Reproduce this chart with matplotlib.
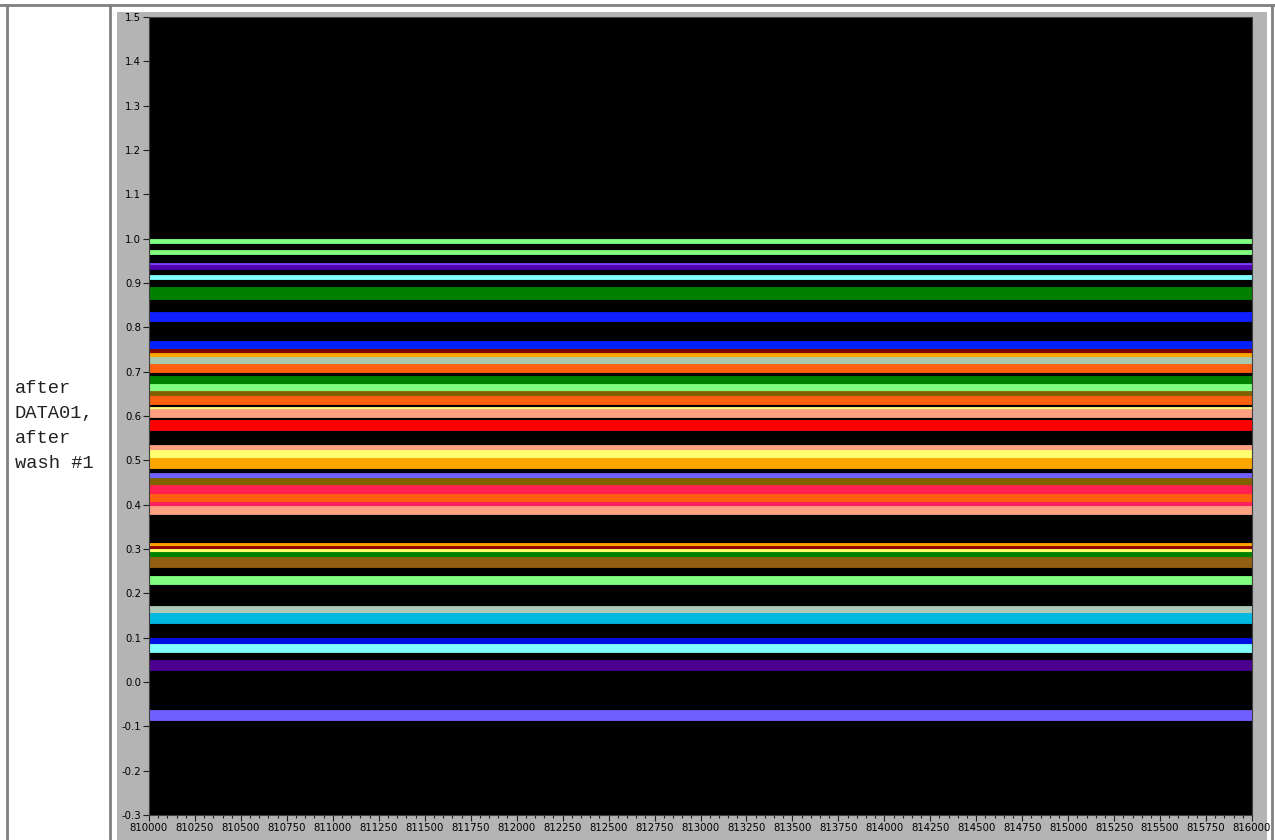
"""Recreate the 'after DATA01, after wash #1' trace overview panel."""

import matplotlib

matplotlib.use("Agg")
import matplotlib.pyplot as plt
from matplotlib.patches import Rectangle
from matplotlib.lines import Line2D
from matplotlib.ticker import MultipleLocator, FormatStrFormatter

W, H = 1275, 840

X_RANGE = [810000, 816000]
Y_RANGE = [-0.3, 1.5]

# one row per trace: mean level, half-width of the noise band, colour
LEVELS = [
    0.995, 0.970, 0.940, 0.936, 0.913, 0.877, 0.825,
    0.757, 0.761, 0.743, 0.732, 0.722, 0.708,
    0.681, 0.663, 0.647, 0.636, 0.612, 0.607, 0.580,
    0.522, 0.512, 0.494, 0.462, 0.449, 0.433, 0.415, 0.395, 0.388,
    0.303, 0.298, 0.291, 0.287, 0.271, 0.230,
    0.162, 0.144, 0.088, 0.077, 0.038, -0.075,
]
HALF_WIDTH = [
    0.004, 0.004, 0.005, 0.004, 0.004, 0.014, 0.010,
    0.009, 0.008, 0.009, 0.010, 0.010, 0.009,
    0.010, 0.010, 0.010, 0.009, 0.008, 0.009, 0.011,
    0.013, 0.012, 0.012, 0.009, 0.011, 0.011, 0.010, 0.010, 0.010,
    0.010, 0.009, 0.008, 0.007, 0.011, 0.010,
    0.010, 0.011, 0.012, 0.009, 0.011, 0.011,
]
COLORS = [
    "#80ff80", "#80ff80", "#8040ff", "#5000b0", "#80ffff", "#008000", "#1020ff",
    "#805000", "#0020ff", "#800000", "#ffa500", "#a8c8b0", "#ff6010",
    "#008000", "#80ff80", "#806000", "#ff6010", "#ffff80", "#ffa080", "#ff0000",
    "#ffa080", "#ffff70", "#ffa500", "#7060ff", "#806000", "#ff2050", "#ff6010", "#ff2060", "#ffa080",
    "#ffa500", "#900000", "#ffff70", "#008000", "#906010", "#80ff80",
    "#b0c8b8", "#00b8e0", "#0010e0", "#80ffff", "#4b0090", "#7060ff",
]

LABEL = "after\nDATA01,\nafter\nwash #1"

GRID_GRAY = "#808080"
PANEL_GRAY = "#b4b4b4"


def px(x, y):
    """pixel coords (origin top-left) -> figure fraction"""
    return x / W, 1 - y / H


fig = plt.figure(figsize=(W / 100, H / 100), dpi=100)
fig.patch.set_facecolor("white")

# table borders
for x0, y0, x1, y1 in [(0, 5, W, 5), (7, 5, 7, H), (110, 5, 110, H), (1272, 5, 1272, H)]:
    (fx0, fy0), (fx1, fy1) = px(x0, y0), px(x1, y1)
    fig.add_artist(Line2D([fx0, fx1], [fy0, fy1], color=GRID_GRAY, linewidth=2,
                          transform=fig.transFigure))

# grey chart panel
fig.add_artist(Rectangle(px(117, H), (1267 - 117) / W, (H - 12) / H,
                         transform=fig.transFigure, facecolor=PANEL_GRAY,
                         edgecolor="none", zorder=0))

fig.text(15 / W, 1 - 426 / H, LABEL, family=["Liberation Mono", "DejaVu Sans Mono"],
         fontsize=13.5, va="center", ha="left", linespacing=1.62, color="#222222")

left, top, right, bottom = 149, 17, 1252, 815
ax = fig.add_axes([left / W, 1 - bottom / H, (right - left) / W, (bottom - top) / H])
ax.set_facecolor("black")

for level, hw, color in zip(LEVELS, HALF_WIDTH, COLORS):
    ax.fill_between(X_RANGE, [level - hw] * 2, [level + hw] * 2,
                    color=color, linewidth=0.6, edgecolor=color)

ax.set_xlim(*X_RANGE)
ax.set_ylim(*Y_RANGE)
ax.xaxis.set_major_locator(MultipleLocator(250))
ax.xaxis.set_minor_locator(MultipleLocator(50))
ax.yaxis.set_major_locator(MultipleLocator(0.1))
ax.yaxis.set_major_formatter(FormatStrFormatter("%.1f"))
ax.tick_params(axis="both", which="major", labelsize=7.3, length=4, width=0.8,
               color="#202020", pad=1.5, direction="out")
ax.tick_params(axis="x", which="minor", length=2, width=0.8, color="#202020")
for spine in ax.spines.values():
    spine.set_color("#404040")
    spine.set_linewidth(0.8)

fig.savefig("out.png", dpi=100, facecolor=fig.get_facecolor())
